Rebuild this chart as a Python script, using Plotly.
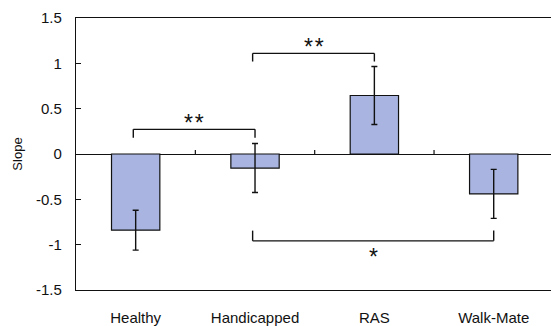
import plotly.graph_objects as go

# Group means and error bars
groups = ["Healthy", "Handicapped", "RAS", "Walk-Mate"]
slopes = [-0.84, -0.155, 0.645, -0.44]
errors = [0.22, 0.27, 0.32, 0.27]

# Significance comparisons: (left group, right group, bracket level, tick end, label)
comp_left = [0, 1, 1]
comp_right = [1, 2, 3]
comp_level = [0.272, 1.11, -0.958]
comp_tick_end = [0.18, 1.02, -0.845]
comp_label = ["*\u200a*", "*\u200a*", "*"]

y_ticks = [-1.5, -1, -0.5, 0, 0.5, 1, 1.5]
y_tick_text = ["-1.5", "-1", "-0.5", "0", "0.5", "1", "1.5"]

FONT = "Liberation Sans, Arial, sans-serif"
BAR_COLOR = "#A9B5E0"

fig = go.Figure()
fig.add_trace(go.Bar(
    x=list(range(len(groups))),
    y=slopes,
    width=0.405,
    marker=dict(color=BAR_COLOR, line=dict(color="#111111", width=1.2)),
    error_y=dict(type="data", array=errors, visible=True,
                 color="#111111", thickness=1.4, width=3),
    showlegend=False,
))

shapes = []
# small category-boundary ticks standing on the zero line
for b in range(len(groups) - 1):
    shapes.append(dict(type="line", xref="x", yref="y",
                       x0=b + 0.5, x1=b + 0.5, y0=0, y1=0.045,
                       line=dict(color="#111111", width=1.2)))

annotations = []
for a, b, lvl, tick, lab in zip(comp_left, comp_right, comp_level, comp_tick_end, comp_label):
    xa, xb = a - 0.02, b + 0.0
    shapes.append(dict(type="line", xref="x", yref="y", x0=xa, x1=xb, y0=lvl, y1=lvl,
                       line=dict(color="#111111", width=1.4)))
    for xe in (xa, xb):
        shapes.append(dict(type="line", xref="x", yref="y", x0=xe, x1=xe, y0=lvl, y1=tick,
                           line=dict(color="#111111", width=1.4)))
    above = tick < lvl
    annotations.append(dict(
        x=(xa + xb) / 2, y=lvl, xref="x", yref="y", text=lab, showarrow=False,
        font=dict(family=FONT, size=23, color="#111111"),
        yanchor="bottom" if above else "top",
        yshift=-9 if above else -1,
    ))

fig.update_layout(
    width=551, height=326,
    margin=dict(l=76, r=0, t=18, b=36),
    paper_bgcolor="white", plot_bgcolor="white",
    font=dict(family=FONT, color="#111111"),
    shapes=shapes,
    annotations=annotations,
    xaxis=dict(
        range=[-0.5, 3.48],
        tickmode="array", tickvals=list(range(len(groups))), ticktext=groups,
        ticks="", showgrid=False, zeroline=False,
        showline=True, linecolor="#111111", linewidth=1.4, mirror=True,
        tickfont=dict(size=15, family=FONT, color="#111111"),
        ticklabelstandoff=14,
    ),
    yaxis=dict(
        range=[-1.5, 1.5],
        tickmode="array", tickvals=y_ticks, ticktext=y_tick_text,
        ticks="inside", ticklen=5, tickwidth=1.2, tickcolor="#111111",
        showgrid=False, zeroline=True, zerolinecolor="#111111", zerolinewidth=1.2,
        showline=True, linecolor="#111111", linewidth=1.4, mirror=True,
        tickfont=dict(size=15, family=FONT, color="#111111"),
        ticklabelstandoff=10,
        title=dict(text="Slope", font=dict(size=13, family=FONT, color="#111111"),
                   standoff=10),
    ),
)

fig.write_html("out.html")
